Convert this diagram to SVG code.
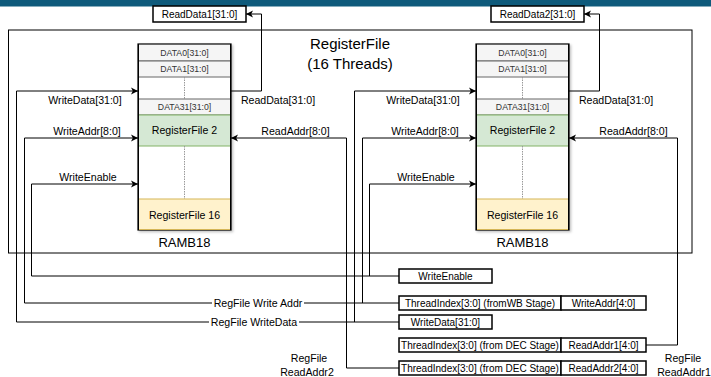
<svg xmlns="http://www.w3.org/2000/svg" width="711" height="377" viewBox="0 0 711 377">
  <defs>
    <marker id="arrow" markerUnits="userSpaceOnUse" markerWidth="8" markerHeight="8" refX="7" refY="4" orient="auto">
      <path d="M0,0.5 L7,4 L0,7.5 L1.8,4 Z" fill="#000"/>
    </marker>
    <filter id="shadow" x="-10%" y="-10%" width="130%" height="130%">
      <feDropShadow dx="1.5" dy="1.5" stdDeviation="1" flood-color="#000" flood-opacity="0.25"/>
    </filter>
  </defs>
  <style>
    text { font-family: "Liberation Sans", Arial, sans-serif; fill: #000; }
    .lbl { font-size: 10.6px; text-anchor: middle; }
    .row { font-size: 8.7px; text-anchor: middle; fill: #333; }
    .blk { font-size: 10.6px; text-anchor: middle; }
    .io { font-size: 10px; text-anchor: middle; }
    .title { font-size: 15px; text-anchor: middle; }
    .ramb { font-size: 13px; text-anchor: middle; }
    .wire { fill: none; stroke: #000; stroke-width: 1; }
    .arr { marker-end: url(#arrow); }
    .iobox { fill: #fff; stroke: #000; stroke-width: 1.5; }
    .drow { fill: #f5f5f5; stroke: #666; stroke-width: 1; }
    .green { fill: #d5e8d4; stroke: #82b366; stroke-width: 1; }
    .yellow { fill: #fff2cc; stroke: #d6b656; stroke-width: 1; }
    .dots { stroke: #999; stroke-width: 1; stroke-dasharray: 1.5 1; }
  </style>

  <!-- header band -->
  <rect x="0" y="0" width="711" height="6.5" fill="#0e5a7b"/>

  <!-- container -->
  <g id="registerfile">
    <rect x="8.5" y="30" width="683.5" height="223" fill="none" stroke="#000" stroke-width="1"/>
    <text class="title" x="350" y="48.5">RegisterFile</text>
    <text class="title" x="350" y="68.5">(16 Threads)</text>
  </g>

  <!-- connectors -->
  <g id="connectors">
    <!-- bank 1 -->
    <path class="wire arr" d="M16.5,322 L16.5,91 L138,91"/>
    <path class="wire arr" d="M24.5,303 L24.5,138 L138,138"/>
    <path class="wire arr" d="M31.5,276 L31.5,184 L138,184"/>
    <path class="wire arr" d="M231,91 L261.5,91 L261.5,14 L246,14"/>
    <path class="wire arr" d="M399,368 L346.5,368 L346.5,138 L231,138"/>
    <!-- bank 2 -->
    <path class="wire arr" d="M354.5,322 L354.5,91 L476,91"/>
    <path class="wire arr" d="M362.5,303 L362.5,138 L476,138"/>
    <path class="wire arr" d="M369.5,276 L369.5,184 L476,184"/>
    <path class="wire arr" d="M569,91 L599.5,91 L599.5,14 L584,14"/>
    <path class="wire arr" d="M646,345 L677.5,345 L677.5,138 L569,138"/>
    <!-- shared write buses -->
    <path class="wire" d="M31.5,276 L399,276"/>
    <path class="wire" d="M24.5,303 L399,303"/>
    <path class="wire" d="M16.5,322 L399,322"/>
    <!-- bus labels -->
    <rect x="212" y="296" width="92" height="14" fill="#fff"/>
    <text class="lbl" x="258" y="306.8">RegFile Write Addr</text>
    <rect x="209" y="315" width="90" height="14" fill="#fff"/>
    <text class="lbl" x="254" y="325.8">RegFile WriteData</text>
    <text class="lbl" x="309" y="362">RegFile</text>
    <text class="lbl" x="307" y="375.5">ReadAddr2</text>
    <text class="lbl" x="683" y="362">RegFile</text>
    <text class="lbl" x="684" y="375.5">ReadAddr1</text>
    <!-- port labels, bank 1 -->
    <text class="lbl" x="85" y="104">WriteData[31:0]</text>
    <text class="lbl" x="278" y="104">ReadData[31:0]</text>
    <text class="lbl" x="87" y="135">WriteAddr[8:0]</text>
    <text class="lbl" x="295.5" y="135">ReadAddr[8:0]</text>
    <text class="lbl" x="88" y="181">WriteEnable</text>
    <!-- port labels, bank 2 -->
    <text class="lbl" x="423" y="104">WriteData[31:0]</text>
    <text class="lbl" x="616" y="104">ReadData[31:0]</text>
    <text class="lbl" x="425" y="135">WriteAddr[8:0]</text>
    <text class="lbl" x="633.5" y="135">ReadAddr[8:0]</text>
    <text class="lbl" x="426" y="181">WriteEnable</text>
  </g>

  <!-- RAMB18 bank 1 -->
  <g id="ramb1">
    <rect x="138" y="44" width="93" height="186" fill="#fff" stroke="#000" stroke-width="1.2" filter="url(#shadow)"/>
    <rect class="drow" x="138.5" y="44.5" width="92" height="16.5"/>
    <text class="row" x="184.5" y="55.8">DATA0[31:0]</text>
    <rect class="drow" x="138.5" y="61" width="92" height="16"/>
    <text class="row" x="184.5" y="72">DATA1[31:0]</text>
    <line class="dots" x1="184.5" y1="77" x2="184.5" y2="99"/>
    <rect class="drow" x="138.5" y="99" width="92" height="16"/>
    <text class="row" x="184.5" y="110">DATA31[31:0]</text>
    <rect class="green" x="138.5" y="115" width="92" height="31"/>
    <text class="blk" x="184.5" y="134">RegisterFile 2</text>
    <line class="dots" x1="184.5" y1="146" x2="184.5" y2="199"/>
    <rect class="yellow" x="138.5" y="199" width="92" height="30.5"/>
    <text class="blk" x="184.5" y="218.5">RegisterFile 16</text>
    <line x1="138.5" y1="44" x2="138.5" y2="230" stroke="#000"/>
    <line x1="230.5" y1="44" x2="230.5" y2="230" stroke="#000"/>
    <text class="ramb" x="184.5" y="246.5">RAMB18</text>
  </g>

  <!-- RAMB18 bank 2 -->
  <g id="ramb2">
    <rect x="476" y="44" width="93" height="186" fill="#fff" stroke="#000" stroke-width="1.2" filter="url(#shadow)"/>
    <rect class="drow" x="476.5" y="44.5" width="92" height="16.5"/>
    <text class="row" x="522.5" y="55.8">DATA0[31:0]</text>
    <rect class="drow" x="476.5" y="61" width="92" height="16"/>
    <text class="row" x="522.5" y="72">DATA1[31:0]</text>
    <line class="dots" x1="522.5" y1="77" x2="522.5" y2="99"/>
    <rect class="drow" x="476.5" y="99" width="92" height="16"/>
    <text class="row" x="522.5" y="110">DATA31[31:0]</text>
    <rect class="green" x="476.5" y="115" width="92" height="31"/>
    <text class="blk" x="522.5" y="134">RegisterFile 2</text>
    <line class="dots" x1="522.5" y1="146" x2="522.5" y2="199"/>
    <rect class="yellow" x="476.5" y="199" width="92" height="30.5"/>
    <text class="blk" x="522.5" y="218.5">RegisterFile 16</text>
    <line x1="476.5" y1="44" x2="476.5" y2="230" stroke="#000"/>
    <line x1="568.5" y1="44" x2="568.5" y2="230" stroke="#000"/>
    <text class="ramb" x="522.5" y="246.5">RAMB18</text>
  </g>

  <!-- read outputs -->
  <g id="readdata1">
    <rect class="iobox" x="153" y="6" width="93" height="16"/>
    <text class="io" x="199.5" y="17.6">ReadData1[31:0]</text>
  </g>
  <g id="readdata2">
    <rect class="iobox" x="491" y="6" width="93" height="16"/>
    <text class="io" x="537.5" y="17.6">ReadData2[31:0]</text>
  </g>

  <!-- pipeline inputs -->
  <g id="writeenable">
    <rect class="iobox" x="399" y="269" width="93" height="14"/>
    <text class="io" x="445.5" y="279.6">WriteEnable</text>
  </g>
  <g id="writeaddr">
    <rect class="iobox" x="399" y="296" width="162" height="14"/>
    <text class="io" x="480" y="306.6">ThreadIndex[3:0] (fromWB Stage)</text>
    <rect class="iobox" x="561" y="296" width="85" height="14"/>
    <text class="io" x="603.5" y="306.6">WriteAddr[4:0]</text>
  </g>
  <g id="writedata">
    <rect class="iobox" x="399" y="315" width="93" height="14"/>
    <text class="io" x="445.5" y="325.6">WriteData[31:0]</text>
  </g>
  <g id="readaddr1">
    <rect class="iobox" x="399" y="338" width="162" height="14"/>
    <text class="io" x="480" y="348.6">ThreadIndex[3:0] (from DEC Stage)</text>
    <rect class="iobox" x="561" y="338" width="85" height="14"/>
    <text class="io" x="603.5" y="348.6">ReadAddr1[4:0]</text>
  </g>
  <g id="readaddr2">
    <rect class="iobox" x="399" y="361" width="162" height="14"/>
    <text class="io" x="480" y="371.6">ThreadIndex[3:0] (from DEC Stage)</text>
    <rect class="iobox" x="561" y="361" width="85" height="14"/>
    <text class="io" x="603.5" y="371.6">ReadAddr2[4:0]</text>
  </g>
</svg>
